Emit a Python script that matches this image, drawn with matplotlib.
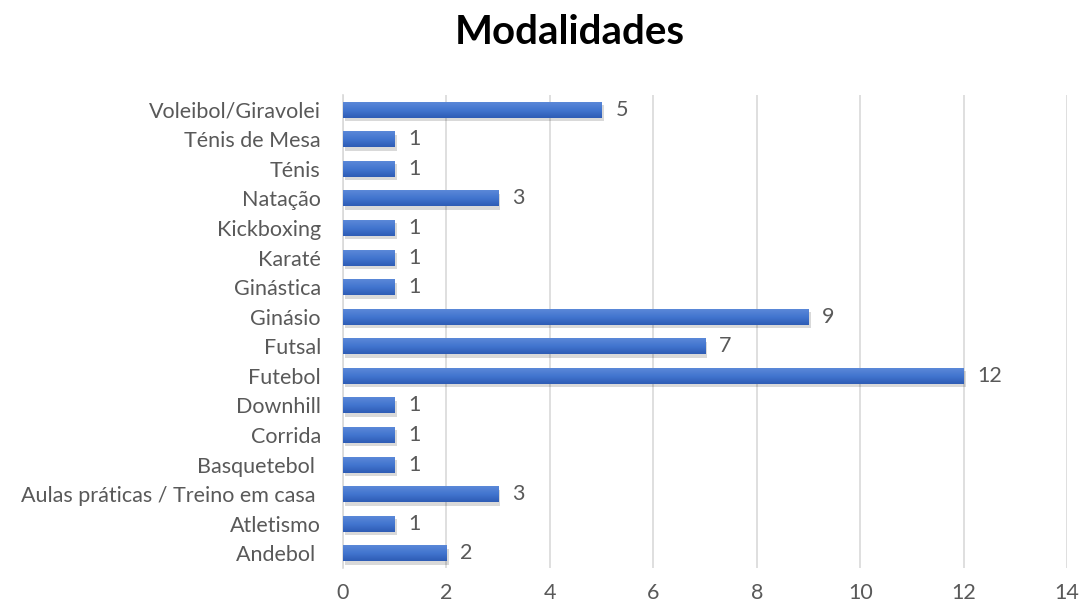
import numpy as np
import matplotlib.pyplot as plt
import matplotlib.patheffects as pe
from matplotlib.colors import LinearSegmentedColormap

categorias = [
    "Andebol ", "Atletismo", "Aulas práticas / Treino em casa ", "Basquetebol ",
    "Corrida", "Downhill", "Futebol", "Futsal", "Ginásio", "Ginástica",
    "Karaté", "Kickboxing", "Natação", "Ténis", "Ténis de Mesa", "Voleibol/Giravolei",
]
valores = [2, 1, 3, 1, 1, 1, 12, 7, 9, 1, 1, 1, 3, 1, 1, 5]
x_ticks = [0, 2, 4, 6, 8, 10, 12, 14]

plt.rcParams["font.family"] = ["Lato", "DejaVu Sans"]
cinza = "#595959"

fig = plt.figure(figsize=(10.8, 6.08), dpi=100)
ax = fig.add_axes([0.3176, 0.0658, 0.6704, 0.778])

barras = ax.barh(range(len(categorias)), valores, height=0.54, color="#3F6DC8", zorder=3)
# degradê estilo Excel: mais claro em cima, mais escuro em baixo
degrade = LinearSegmentedColormap.from_list("azul", ["#2E5CB5", "#4275CF", "#5B88D8"])
grad = np.linspace(0, 1, 64).reshape(-1, 1)
for b in barras:
    b.set_path_effects([
        pe.SimplePatchShadow(offset=(1.5, -2.5), shadow_rgbFace="#000000", alpha=0.15),
        pe.Normal(),
    ])
    x0, y0 = b.get_x(), b.get_y()
    img = ax.imshow(grad, cmap=degrade, aspect="auto", origin="lower",
                    extent=(x0, x0 + b.get_width(), y0, y0 + b.get_height()), zorder=4)
    img.set_clip_path(b)

for i, v in enumerate(valores):
    ax.annotate(str(v), (v, i), xytext=(10, 0), textcoords="offset points",
                va="center", ha="left", fontsize=15.5, color=cinza)

ax.set_xlim(0, 14)
ax.set_ylim(-0.5, len(categorias) - 0.5)
ax.set_xticks(x_ticks)
ax.set_yticks(range(len(categorias)))
ax.set_yticklabels(categorias)
ax.tick_params(axis="both", length=0, labelsize=15.5, colors=cinza)
ax.tick_params(axis="y", pad=16)
ax.tick_params(axis="x", pad=11)
ax.grid(axis="x", color="#d9d9d9", linewidth=1.2, zorder=0)
for s in ["top", "right", "bottom"]:
    ax.spines[s].set_visible(False)
ax.spines["left"].set_color("#d9d9d9")
ax.spines["left"].set_linewidth(1.2)

fig.text(0.528, 0.947, "Modalidades", ha="center", va="center",
         fontsize=29, fontweight="bold", color="#000000")

fig.savefig("out.png", dpi=100)
